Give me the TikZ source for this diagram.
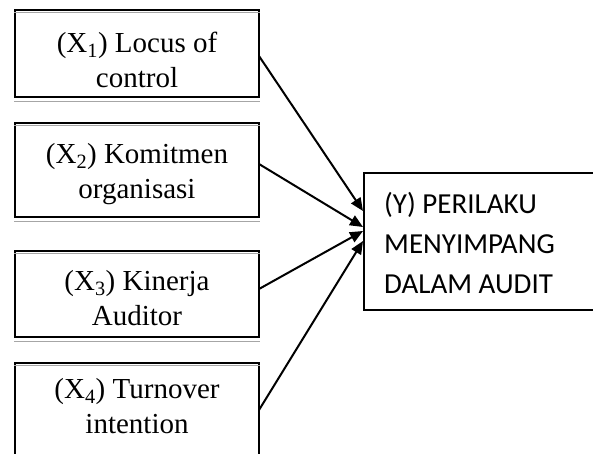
\documentclass[tikz,border=0pt]{standalone}
\usepackage{fontspec}
\setmainfont{Liberation Serif}
\newfontfamily\calib{Carlito}
\usetikzlibrary{arrows.meta}
\begin{document}
\begin{tikzpicture}[x=1pt,y=-1pt,
  boxst/.style={draw=black, line width=2pt, inner sep=0pt},
  shade/.style={draw=black!35, line width=1.4pt},
  ltxt/.style={align=center, inner sep=0pt, font=\fontsize{29}{35}\selectfont},
  rtxt/.style={align=left, inner sep=0pt, font=\calib\fontsize{29}{40}\selectfont},
  arr/.style={line width=2pt, -{Triangle[length=13pt,width=11pt]}}]
\useasboundingbox (0,0) rectangle (593,454);
% left boxes
\node[boxst, minimum width=244pt, minimum height=87pt] (x1) at (137,53.5) {};
\node[boxst, minimum width=244pt, minimum height=94pt] (x2) at (137,170) {};
\node[boxst, minimum width=244pt, minimum height=86pt] (x3) at (137,294) {};
\node[boxst, minimum width=244pt, minimum height=117pt] (x4) at (137,421.5) {};
% grey rules
\draw[shade] ([yshift=-3.5pt]x1.north west) -- ([yshift=-3.5pt]x1.north east);
\draw[shade] ([yshift=-3.5pt]x1.south west) -- ([yshift=-3.5pt]x1.south east);
\draw[shade] ([yshift=-3.5pt]x2.north west) -- ([yshift=-3.5pt]x2.north east);
\draw[shade] ([yshift=-3.5pt]x2.south west) -- ([yshift=-3.5pt]x2.south east);
\draw[shade] ([yshift=-3.5pt]x3.north west) -- ([yshift=-3.5pt]x3.north east);
\draw[shade] ([yshift=-3.5pt]x3.south west) -- ([yshift=-3.5pt]x3.south east);
\draw[shade] ([yshift=-3.5pt]x4.north west) -- ([yshift=-3.5pt]x4.north east);
% texts
\node[ltxt] (t1) at (137,60) {(X\textsubscript{1}) Locus of\\control};
\node[ltxt] (t2) at (137,174) {(X\textsubscript{2}) Komitmen\\organisasi};
\node[ltxt] (t3) at (137,298) {(X\textsubscript{3}) Kinerja\\Auditor};
\node[ltxt] (t4) at (137,406) {(X\textsubscript{4}) Turnover\\intention};
% right box
\node[boxst, minimum width=260pt, minimum height=137pt] (y) at (494,241.5) {};
\node[rtxt, anchor=base west] (ty) at (384,293) {(Y) PERILAKU\\MENYIMPANG\\DALAM AUDIT};
% connector ends
\coordinate (s1) at (259,56);
\coordinate (s2) at (259,164);
\coordinate (s3) at (259,289);
\coordinate (s4) at (259,410);
\coordinate (e1) at (363,211);
\coordinate (e2) at (363,227);
\coordinate (e3) at (363,231);
\coordinate (e4) at (363,241);
\draw[arr] (s1) -- (e1);
\draw[arr] (s2) -- (e2);
\draw[arr] (s3) -- (e3);
\draw[arr] (s4) -- (e4);
\end{tikzpicture}
\end{document}
